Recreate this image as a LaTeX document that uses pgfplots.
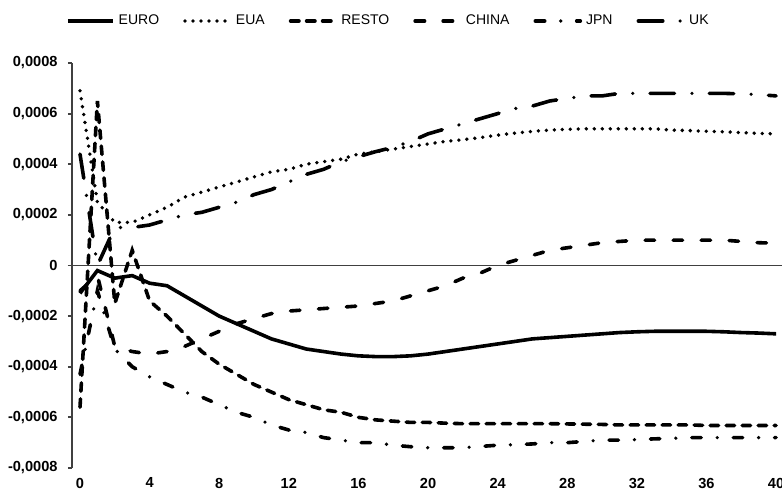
\documentclass[border=0pt]{standalone}
\usepackage{fontspec}
\setmainfont{Liberation Sans}
\usepackage{pgfplots}
\usepackage{pgfplotstable}
\pgfplotsset{compat=1.18}

% Impulse responses, periods 0..40
\pgfplotstableread{
x  euro       eua       resto      china      jpn        uk
0  -0.00011   0.00069   -0.00056   -0.00010   -0.00043   0.00044
1  -0.00002   0.00025    0.00065   -0.00004   -0.00010   0.00000
2  -0.00005   0.00017   -0.00015   -0.00032   -0.00033   0.00015
3  -0.00004   0.00017    0.00006   -0.00034   -0.00040   0.00015
4  -0.00007   0.00020   -0.00014   -0.00035   -0.00044   0.00016
5  -0.00008   0.00023   -0.00020   -0.00034   -0.00047   0.00018
6  -0.00012   0.00027   -0.00027   -0.00032   -0.00050   0.00020
7  -0.00016   0.00029   -0.00034   -0.00029   -0.00052   0.00021
8  -0.00020   0.00031   -0.00039   -0.00026   -0.00055   0.00023
9  -0.00023   0.00033   -0.00043   -0.00023   -0.00058   0.00025
10 -0.00026   0.00035   -0.00047   -0.00021   -0.00060   0.00028
11 -0.00029   0.00037   -0.00050   -0.00019   -0.00063   0.00030
12 -0.00031   0.00038   -0.00053   -0.00018   -0.00065   0.00033
13 -0.00033   0.00040   -0.00055   -0.000175  -0.00066   0.00036
14 -0.00034   0.00041   -0.00057   -0.00017   -0.00068   0.00038
15 -0.00035   0.00042   -0.00058   -0.000165  -0.00069   0.00041
16 -0.000357  0.00044   -0.00060   -0.00016   -0.00070   0.00043
17 -0.00036   0.00045   -0.00061   -0.00015   -0.00070   0.00045
18 -0.00036   0.00046   -0.000615  -0.00014   -0.00071   0.000467
19 -0.000357  0.00047   -0.00062   -0.00012   -0.000716  0.00049
20 -0.00035   0.00048   -0.00062   -0.00010   -0.00072   0.00052
21 -0.00034   0.00049   -0.000623  -0.00008   -0.00072   0.00054
22 -0.00033   0.000497  -0.000625  -0.00005   -0.00072   0.00056
23 -0.00032   0.000505  -0.000625  -0.00003   -0.000715  0.00058
24 -0.00031   0.000515  -0.000625   0.00000   -0.00071   0.00060
25 -0.00030   0.000523  -0.000625   0.00002   -0.000708  0.00062
26 -0.00029   0.00053   -0.000625   0.00004   -0.000705  0.00063
27 -0.000285  0.000535  -0.000625   0.00006   -0.00070   0.00065
28 -0.00028   0.000538  -0.000626   0.00007   -0.00070   0.00066
29 -0.000275  0.00054   -0.000627   0.00008   -0.000695  0.00067
30 -0.00027   0.00054   -0.000628   0.00009   -0.00069   0.00067
31 -0.000265  0.00054   -0.00063    0.000095  -0.00069   0.00068
32 -0.000262  0.00054   -0.00063    0.00010   -0.000688  0.00068
33 -0.00026   0.00054   -0.00063    0.00010   -0.000685  0.00068
34 -0.00026   0.000535  -0.00063    0.00010   -0.000683  0.00068
35 -0.00026   0.000533  -0.00063    0.00010   -0.00068   0.00068
36 -0.00026   0.00053   -0.000632   0.00010   -0.00068   0.00068
37 -0.000262  0.000528  -0.000632   0.00010   -0.00068   0.00068
38 -0.000265  0.000525  -0.000632   0.000095  -0.00068   0.000678
39 -0.000267  0.000522  -0.000632   0.00009   -0.00068   0.000675
40 -0.00027   0.00052   -0.000632   0.000088  -0.00068   0.00067
}\irf

\begin{document}
\begin{tikzpicture}
\begin{axis}[
  scale only axis,
  width=355pt, height=202.5pt,
  xmin=-0.46, xmax=40.34,
  ymin=-0.0008, ymax=0.0008,
  axis x line*=bottom, axis y line*=left,
  x axis line style={draw=none},
  y axis line style={black!75, line width=0.9pt},
  xtick={0,4,8,12,16,20,24,28,32,36,40},
  xticklabels={0,4,8,12,16,20,24,28,32,36,40},
  xtick style={draw=none},
  ytick={-0.0008,-0.0006,-0.0004,-0.0002,0,0.0002,0.0004,0.0006,0.0008},
  yticklabels={{-0,0008},{-0,0006},{-0,0004},{-0,0002},0,{0,0002},{0,0004},{0,0006},{0,0008}},
  scaled y ticks=false,
  tick align=outside,
  major tick length=2pt,
  ytick style={black!75, line width=0.9pt},
  extra y ticks={0},
  extra y tick labels={},
  extra y tick style={grid=major, major grid style={black!75, line width=0.9pt}},
  ticklabel style={font=\fontsize{7.3}{8.5}\selectfont\bfseries, text=black},
  xticklabel style={yshift=0.6pt},
  yticklabel style={xshift=-1.7pt},
  legend columns=6,
  legend image code/.code={\draw[#1] (0pt,0pt) -- (22.5pt,0pt);},
  legend style={draw=none, fill=none, anchor=center, at={(0.447,1.1037)},
    font=\fontsize{7}{8.5}\selectfont,
    /tikz/every even column/.append style={column sep=10pt}},
  every axis plot/.append style={black, line width=1.8pt},
]
\coordinate (sw) at (rel axis cs:0,0);
\coordinate (ne) at (rel axis cs:1,1);
\addplot[line cap=butt] table[x=x, y=euro] {\irf};
\addlegendentry{EURO}
\addplot[line cap=round, line width=1.9pt, dash pattern=on 0pt off 4pt] table[x=x, y=eua] {\irf};
\addlegendentry{EUA}
\addplot[line cap=round, dash pattern=on 4.2pt off 3.8pt] table[x=x, y=resto] {\irf};
\addlegendentry{RESTO}
\addplot[line cap=round, dash pattern=on 4.7pt off 9.3pt] table[x=x, y=china] {\irf};
\addlegendentry{CHINA}
\addplot[line cap=round, dash pattern=on 4.7pt off 8pt on 0pt off 8pt] table[x=x, y=jpn] {\irf};
\addlegendentry{JPN}
\addplot[line cap=round, dash pattern=on 12.2pt off 8.7pt on 0pt off 8.7pt] table[x=x, y=uk] {\irf};
\addlegendentry{UK}
\end{axis}
\pgfresetboundingbox
\path ([xshift=-36pt,yshift=-12pt]sw) rectangle ([yshift=31.5pt]ne);
\end{tikzpicture}
\end{document}
